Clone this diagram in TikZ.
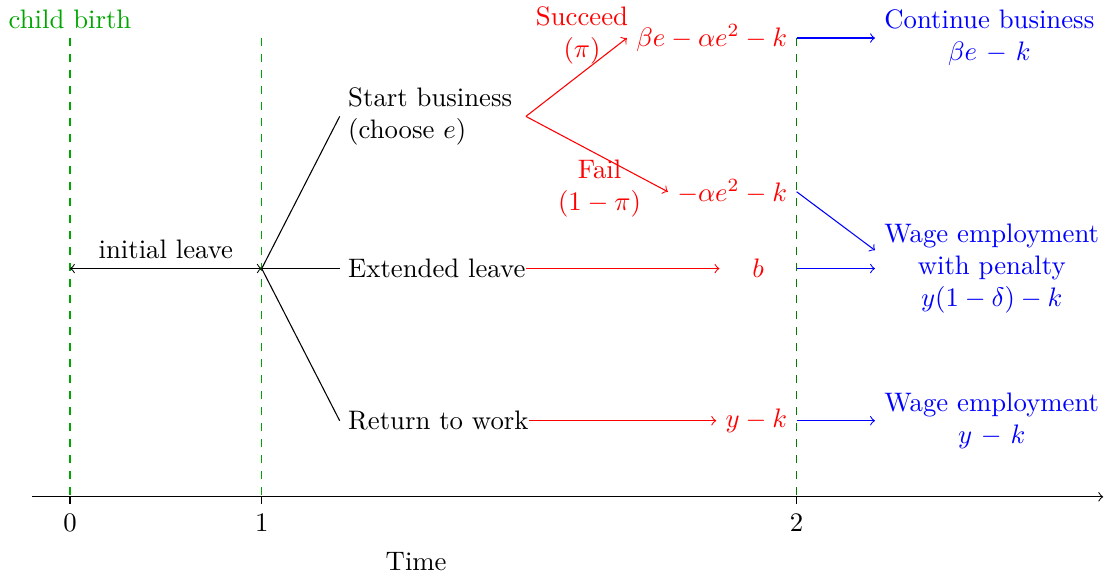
\documentclass[tikz,border=0pt]{standalone}
\usetikzlibrary{positioning}

\begin{document}
\begin{tikzpicture}[
    choice/.style={anchor=west, align=left, inner xsep=0pt},
    payoff/.style={anchor=east, text=red, minimum width=1cm},
    outcome/.style={anchor=west, align=center, text=blue},
    period/.style={dashed, green!65!black}
  ]
    \useasboundingbox (-0.92,-1.04) rectangle (13.63,6.53);

    %% --- Time axis ---
    \draw[->] (-0.5,0) -- (13.58,0);
    \foreach \x/\t in {0/0, 2.52/1, 9.55/2}
      \draw (\x,0) -- (\x,-0.1) node[below] (tick\t) {\t};
    \node (time) at (4.55,-0.85) {Time};

    %% --- Periods ---
    \draw[period] (0,6.03) node[above, text=green!65!black] (birth) {child birth} -- (0,0);
    \draw[period] (2.52,6.03) -- (2.52,0);
    \draw[dashed, green!50!black] (9.55,6.03) -- (9.55,0);

    %% --- First stage ---
    \coordinate (leave0) at (0,3);
    \coordinate (branch) at (2.52,3);
    \draw[<->] (leave0) -- node[above] (initial) {initial leave} (branch);
    \node[choice] (start) at (3.65,5) {Start business\\(choose $e$)};
    \node[choice] (ext) at (3.65,3) {Extended leave};
    \node[choice] (ret) at (3.65,1) {Return to work};
    \foreach \nd in {start, ext, ret}
      \draw (branch) -- ([xshift=-3pt]\nd.west);

    %% --- Second stage ---
    \node[payoff] (succ) at (9.55,6.03) {$\beta e-\alpha e^2-k$};
    \node[payoff] (fail) at (9.55,4.01) {$-\alpha e^2-k$};
    \node[payoff] (bval) at (9.55,3) {$b$};
    \node[payoff] (yval) at (9.55,1) {$y-k$};
    \coordinate (split) at (ext.east |- start.west);
    \draw[->, red] (split) -- (succ.west);
    \draw[->, red] (split) -- (fail.west);
    \draw[->, red] (ext.east) -- (bval.west);
    \draw[->, red] (ret.east) -- (yval.west);
    \node[red, align=center] (sprob) at (6.73,6.06) {Succeed\\($\pi$)};
    \node[red, align=center] (fprob) at (6.96,4.05) {Fail\\($1-\pi$)};

    %% --- Third stage ---
    \node[outcome] (cont) at (10.58,6.03) {Continue business\\$\beta e$ $-$ $k$};
    \node[outcome] (wpen) at (10.58,3) {Wage employment\\with penalty\\$y(1-\delta)-k$};
    \node[outcome] (wage) at (10.58,1) {Wage employment\\$y$ $-$ $k$};
    \draw[->, blue] (succ.east) -- (cont.west);
    \draw[->, blue] (fail.east) -- ([yshift=0.24cm]wpen.west);
    \draw[->, blue] (bval.east) -- (wpen.west);
    \draw[->, blue] (yval.east) -- (wage.west);
  \end{tikzpicture}
\end{document}
